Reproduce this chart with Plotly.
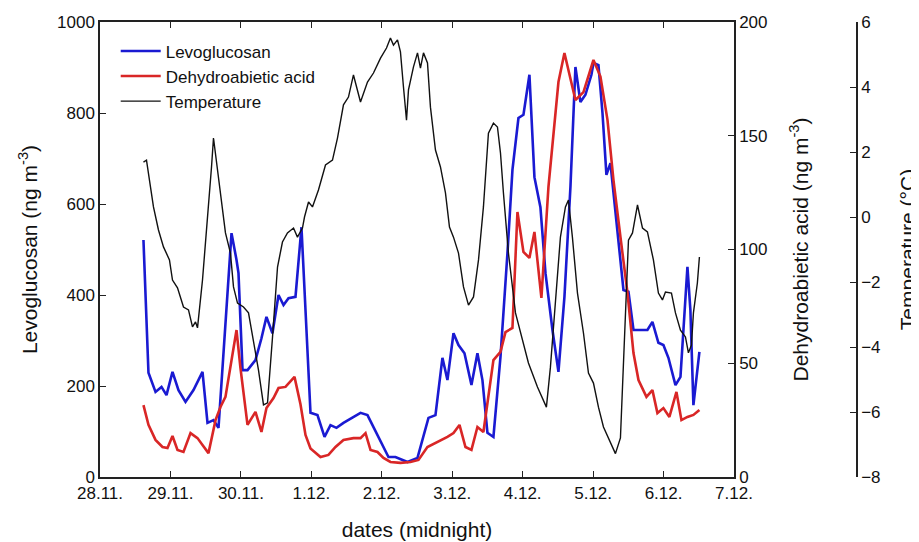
import plotly.graph_objects as go

# x values: days after 28.11. 00:00
x_tick_vals = [0, 1, 2, 3, 4, 5, 6, 7, 8, 9]
x_tick_labels = ["28.11.", "29.11.", "30.11.", "1.12.", "2.12.", "3.12.", "4.12.", "5.12.", "6.12.", "7.12."]

lev_days = [0.617, 0.688, 0.788, 0.873, 0.944, 1.029, 1.114, 1.214, 1.327, 1.455, 1.526, 1.611, 1.682,
            1.781, 1.867, 1.938, 1.966, 2.023, 2.094, 2.207, 2.292, 2.363, 2.448, 2.534, 2.605, 2.676,
            2.775, 2.860, 2.988, 3.087, 3.187, 3.272, 3.357, 3.456, 3.584, 3.698, 3.797, 3.939, 4.095,
            4.194, 4.365, 4.507, 4.663, 4.762, 4.861, 4.932, 5.018, 5.089, 5.174, 5.273, 5.358, 5.429,
            5.500, 5.585, 5.685, 5.784, 5.855, 5.940, 6.011, 6.096, 6.167, 6.252, 6.324, 6.423, 6.508,
            6.593, 6.678, 6.749, 6.820, 6.891, 6.976, 7.005, 7.076, 7.133, 7.189, 7.246, 7.431, 7.502,
            7.573, 7.771, 7.842, 7.927, 7.998, 8.069, 8.169, 8.240, 8.339, 8.381, 8.424, 8.509]
lev_values = [521, 229, 187, 198, 180, 231, 191, 165, 191, 231, 119, 125, 108,
              345, 536, 477, 448, 235, 235, 257, 305, 352, 316, 400, 378, 393,
              396, 549, 141, 136, 88, 114, 108, 119, 130, 141, 136, 92, 44,
              44, 33, 42, 130, 136, 262, 213, 316, 290, 272, 202, 272, 213,
              97, 88, 264, 492, 675, 789, 796, 884, 659, 593, 448, 323, 231,
              396, 637, 901, 824, 840, 884, 910, 905, 800, 664, 690, 411, 407,
              323, 323, 341, 295, 290, 262, 202, 220, 462, 367, 158, 275]

dha_days = [0.617, 0.688, 0.788, 0.887, 0.958, 1.029, 1.100, 1.185, 1.285, 1.384, 1.455, 1.540, 1.640,
            1.710, 1.781, 1.852, 1.938, 1.994, 2.094, 2.207, 2.292, 2.363, 2.463, 2.534, 2.633, 2.761,
            2.846, 2.917, 2.988, 3.130, 3.243, 3.343, 3.456, 3.598, 3.698, 3.769, 3.840, 3.939, 4.024,
            4.123, 4.265, 4.407, 4.521, 4.648, 4.790, 4.932, 5.018, 5.103, 5.188, 5.273, 5.358, 5.443,
            5.585, 5.685, 5.756, 5.855, 5.926, 6.011, 6.096, 6.167, 6.266, 6.366, 6.508, 6.593, 6.749,
            6.863, 7.005, 7.104, 7.204, 7.289, 7.388, 7.488, 7.573, 7.644, 7.757, 7.842, 7.913, 7.998,
            8.083, 8.183, 8.254, 8.339, 8.424, 8.509]
dha_values = [31.6, 22.9, 16.3, 13.2, 12.7, 18.0, 11.9, 11.0, 19.3, 17.1, 14.1, 10.5, 25.0,
              30.8, 35.2, 48.4, 64.6, 47.9, 22.9, 28.6, 19.8, 30.3, 34.7, 39.1, 39.6, 44.0,
              32.0, 18.5, 12.5, 8.8, 9.7, 13.2, 16.3, 17.1, 17.1, 19.3, 11.9, 11.0, 8.4,
              6.6, 6.2, 6.6, 7.5, 13.2, 15.4, 17.6, 19.3, 22.9, 13.2, 11.9, 22.0, 19.8,
              51.4, 55.0, 63.7, 65.5, 116.5, 98.9, 96.3, 107.7, 78.7, 127.5, 173.6, 186.4, 165.7,
              169.2, 183.3, 176.0, 157.0, 130.5, 105.5, 80.9, 54.5, 42.6, 35.2, 38.2, 28.1, 30.3,
              26.4, 37.4, 25.0, 26.4, 27.3, 29.5]

temp_days = [0.617, 0.660, 0.717, 0.759, 0.830, 0.901, 0.986, 1.029, 1.100, 1.185, 1.256, 1.313, 1.356,
             1.384, 1.455, 1.526, 1.583, 1.611, 1.654, 1.710, 1.781, 1.852, 1.895, 1.952, 2.037, 2.108,
             2.179, 2.250, 2.321, 2.378, 2.449, 2.520, 2.590, 2.661, 2.747, 2.803, 2.874, 2.903, 2.960,
             3.016, 3.101, 3.201, 3.300, 3.371, 3.456, 3.527, 3.598, 3.698, 3.797, 3.882, 3.982, 4.067,
             4.123, 4.166, 4.223, 4.265, 4.308, 4.351, 4.379, 4.450, 4.507, 4.549, 4.592, 4.649, 4.691,
             4.762, 4.833, 4.904, 4.961, 5.018, 5.089, 5.160, 5.231, 5.302, 5.373, 5.443, 5.514, 5.585,
             5.642, 5.685, 5.727, 5.798, 5.898, 5.997, 6.082, 6.210, 6.266, 6.337, 6.394, 6.465, 6.536,
             6.607, 6.650, 6.706, 6.778, 6.863, 6.934, 7.005, 7.076, 7.147, 7.246, 7.317, 7.388, 7.459,
             7.502, 7.559, 7.630, 7.701, 7.771, 7.856, 7.927, 7.984, 8.027, 8.112, 8.169, 8.240, 8.311,
             8.353, 8.396, 8.424, 8.480, 8.509]
temp_values = [1.69, 1.75, 0.92, 0.31, -0.40, -0.92, -1.32, -1.94, -2.18, -2.77, -2.86, -3.38, -3.23,
               -3.41, -1.94, -0.09, 1.54, 2.43, 1.66, 0.62, -0.49, -1.11, -2.15, -2.65, -2.77, -2.95,
               -3.78, -4.71, -5.78, -5.72, -3.69, -1.54, -0.77, -0.49, -0.34, -0.62, -0.34, 0.00, 0.46,
               0.31, 0.83, 1.60, 1.75, 2.43, 3.45, 3.69, 4.37, 3.54, 4.15, 4.43, 4.89, 5.20,
               5.51, 5.29, 5.45, 5.08, 4.00, 2.98, 3.91, 4.62, 5.05, 4.58, 5.05, 4.74, 3.38,
               2.06, 1.54, 0.74, -0.31, -0.62, -1.11, -2.15, -2.71, -2.46, -1.32, 0.31, 2.58, 2.89,
               2.77, 1.97, 0.74, -1.11, -2.95, -3.78, -4.49, -5.23, -5.48, -5.85, -4.62, -2.46, -0.62,
               0.31, 0.52, -0.62, -2.34, -3.57, -4.80, -5.11, -5.85, -6.46, -6.95, -7.28, -6.80, -3.17,
               -0.71, -0.49, 0.37, -0.34, -0.46, -1.32, -2.34, -2.55, -2.31, -2.34, -2.95, -3.48, -3.69,
               -4.18, -3.94, -2.95, -2.03, -1.23]

FONT = "Liberation Sans, Arial, sans-serif"
AX = "#222222"

fig = go.Figure()
fig.add_trace(go.Scatter(x=lev_days, y=lev_values, mode="lines", name="Levoglucosan",
                         line=dict(color="#1a1ad2", width=2.6), yaxis="y"))
fig.add_trace(go.Scatter(x=dha_days, y=dha_values, mode="lines", name="Dehydroabietic acid",
                         line=dict(color="#d92626", width=2.6), yaxis="y2"))
fig.add_trace(go.Scatter(x=temp_days, y=temp_values, mode="lines", name="Temperature",
                         line=dict(color="#111111", width=1.4), yaxis="y3"))

# the page body adds an 8px offset, so the figure box is laid out 8px up/left
W, H = 919, 542
ml, mr, mt, mb = 92, 0, 14, 73
pw = W - ml - mr
dom_end = 634.0 / pw
pos3 = 757.0 / pw

axis_common = dict(showline=True, linecolor=AX, linewidth=1.5, ticks="inside", ticklen=6,
                   tickwidth=1.3, tickcolor=AX, showgrid=False, zeroline=False, automargin=False,
                   tickfont=dict(family=FONT, size=17, color="#111"))
title_font = dict(family=FONT, size=21, color="#111")

fig.update_layout(
    template="none",
    width=W, height=H,
    margin=dict(l=ml, r=mr, t=mt, b=mb, autoexpand=False),
    paper_bgcolor="white", plot_bgcolor="white",
    font=dict(family=FONT, size=17, color="#111"),
    showlegend=True,
    legend=dict(x=0.019, y=0.975, xanchor="left", yanchor="top", bgcolor="rgba(0,0,0,0)",
                borderwidth=0, font=dict(family=FONT, size=17, color="#111"),
                tracegroupgap=0, itemwidth=40),
    xaxis=dict(domain=[0, dom_end], range=[0, 9], tickvals=x_tick_vals, ticktext=x_tick_labels,
               mirror="ticks",
               title=dict(text="dates (midnight)", font=title_font, standoff=20),
               **axis_common),
    yaxis=dict(range=[0, 1000], tickvals=[0, 200, 400, 600, 800, 1000],
               title=dict(text="Levoglucosan (ng m<sup>-3</sup>)", font=title_font, standoff=14),
               **axis_common),
    yaxis2=dict(range=[0, 200], tickvals=[0, 50, 100, 150, 200], overlaying="y", side="right",
                anchor="x",
                title=dict(text="Dehydroabietic acid (ng m<sup>-3</sup>)", font=title_font, standoff=27),
                **axis_common),
    yaxis3=dict(range=[-8, 6], tickvals=[-8, -6, -4, -2, 0, 2, 4, 6], overlaying="y", side="right",
                anchor="free", position=pos3,
                title=dict(text="Temperature (°C)", font=title_font, standoff=20),
                **axis_common),
)

fig.write_html("out.html")
